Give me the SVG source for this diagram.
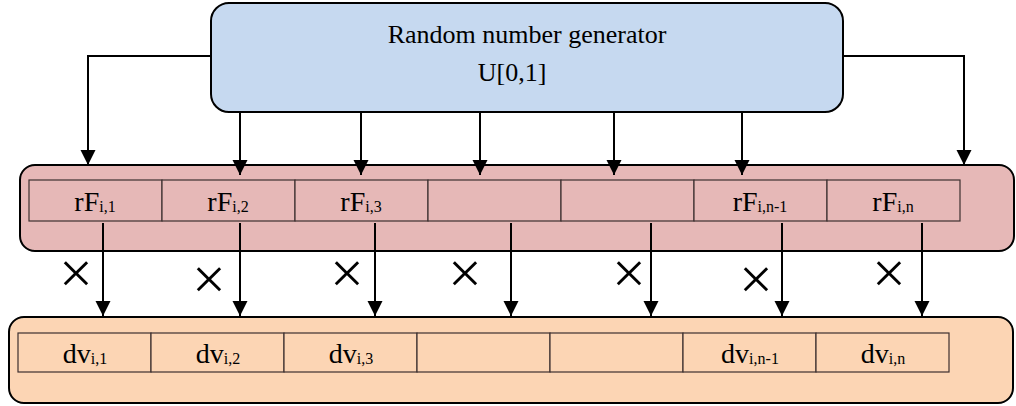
<svg xmlns="http://www.w3.org/2000/svg" width="1016" height="406" viewBox="0 0 1016 406">
  <style>
    .box { stroke: #000; stroke-width: 2; }
    .cell { stroke: #3d3030; stroke-width: 1.2; }
    .label { font-family: "Liberation Serif", "Times New Roman", serif; font-size: 26px; fill: #000; }
    .cellText { font-size: 28px; }
    .sub { font-size: 16px; }
    .times { font-family: "Liberation Serif", "Times New Roman", serif; font-size: 60px; fill: #000; text-anchor: middle; }
    .wire { fill: none; stroke: #000; stroke-width: 2; }
  </style>
  <defs>
    <marker id="arrow" markerUnits="userSpaceOnUse" markerWidth="16" markerHeight="16" refX="15" refY="7.5" orient="auto">
      <path d="M0,0 L15,7.5 L0,15 Z" fill="#000"/>
    </marker>
  </defs>

  <rect width="1016" height="406" fill="#fff"/>

  <!-- generator -->
  <g id="generator">
    <rect class="box" x="211" y="3" width="632" height="109" rx="18" fill="#c6d9f0"/>
    <text class="label" x="527" y="43" text-anchor="middle">Random number generator</text>
    <text class="label" x="512" y="81" text-anchor="middle">U[0,1]</text>
  </g>

  <!-- random factors row -->
  <g id="factors">
    <rect class="box" x="20" y="165" width="994" height="86" rx="15" fill="#e6b8b7"/>
    <g fill="#e6b8b7" class="cell">
      <rect x="29" y="180" width="133" height="41"/>
      <rect x="162" y="180" width="133" height="41"/>
      <rect x="295" y="180" width="133" height="41"/>
      <rect x="428" y="180" width="133" height="41"/>
      <rect x="561" y="180" width="133" height="41"/>
      <rect x="694" y="180" width="133" height="41"/>
      <rect x="827" y="180" width="133" height="41"/>
    </g>
    <g class="label cellText" text-anchor="middle">
      <text x="95" y="211">rF<tspan class="sub" dy="1">i,1</tspan></text>
      <text x="228" y="211">rF<tspan class="sub" dy="1">i,2</tspan></text>
      <text x="361" y="211">rF<tspan class="sub" dy="1">i,3</tspan></text>
      <text x="760" y="211">rF<tspan class="sub" dy="1">i,n-1</tspan></text>
      <text x="893" y="211">rF<tspan class="sub" dy="1">i,n</tspan></text>
    </g>
  </g>

  <!-- decision variables row -->
  <g id="variables">
    <rect class="box" x="9" y="317" width="1004" height="86" rx="15" fill="#fcd5b4"/>
    <g fill="#fcd5b4" class="cell">
      <rect x="18" y="333" width="133" height="39"/>
      <rect x="151" y="333" width="133" height="39"/>
      <rect x="284" y="333" width="133" height="39"/>
      <rect x="417" y="333" width="133" height="39"/>
      <rect x="550" y="333" width="133" height="39"/>
      <rect x="683" y="333" width="133" height="39"/>
      <rect x="816" y="333" width="133" height="39"/>
    </g>
    <g class="label cellText" text-anchor="middle">
      <text x="85" y="363">dv<tspan class="sub" dy="1">i,1</tspan></text>
      <text x="218" y="363">dv<tspan class="sub" dy="1">i,2</tspan></text>
      <text x="351" y="363">dv<tspan class="sub" dy="1">i,3</tspan></text>
      <text x="750" y="363">dv<tspan class="sub" dy="1">i,n-1</tspan></text>
      <text x="883" y="363">dv<tspan class="sub" dy="1">i,n</tspan></text>
    </g>
  </g>

  <!-- connectors -->
  <g id="connectors" class="wire" marker-end="url(#arrow)">
    <path d="M211,56 H88 V165"/>
    <path d="M843,56 H964 V165"/>
    <path d="M240,112 V175"/>
    <path d="M361,112 V175"/>
    <path d="M480,112 V175"/>
    <path d="M614,112 V175"/>
    <path d="M742,112 V175"/>
    <path d="M103,223 V316"/>
    <path d="M240,223 V316"/>
    <path d="M375,223 V316"/>
    <path d="M511,223 V316"/>
    <path d="M651,223 V316"/>
    <path d="M782,223 V316"/>
    <path d="M922,223 V316"/>
  </g>

  <!-- multiplication signs -->
  <g id="products">
    <text class="times" x="76" y="293">×</text>
    <text class="times" x="209" y="299">×</text>
    <text class="times" x="347" y="293">×</text>
    <text class="times" x="465" y="293">×</text>
    <text class="times" x="629" y="293">×</text>
    <text class="times" x="756" y="299">×</text>
    <text class="times" x="889" y="293">×</text>
  </g>
</svg>
